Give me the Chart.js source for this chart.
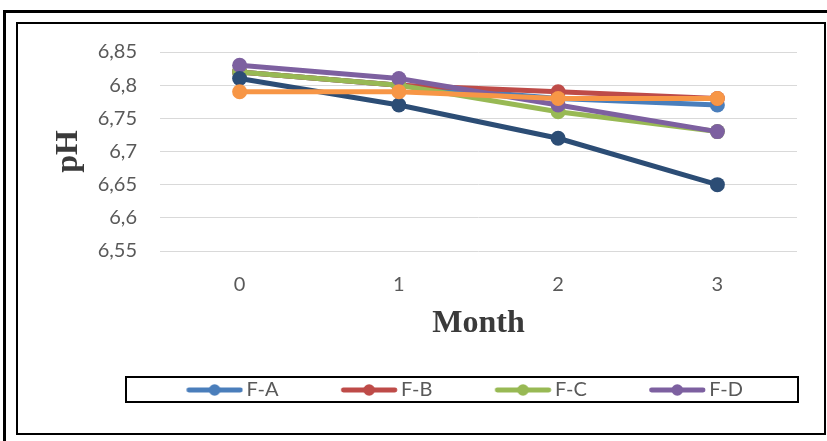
<!DOCTYPE html>
<html>
<head>
<meta charset="utf-8">
<title>pH by month</title>
<script src="https://cdn.jsdelivr.net/npm/chart.js@4.4.1/dist/chart.umd.min.js"></script>
<style>
  html, body { margin: 0; padding: 0; background: #fff; overflow: hidden; }
  #wrap { position: relative; width: 827px; height: 441px; overflow: hidden; background: #fff; }
  .frame-outer { position: absolute; left: 3px; top: 10px; width: 900px; height: 500px;
                 border: 3px solid #000; box-sizing: border-box; }
  .frame-inner { position: absolute; left: 16px; top: 22px; width: 810px; height: 413px;
                 border: 2px solid #000; box-sizing: border-box; }
  .legend-box  { position: absolute; left: 125px; top: 376px; width: 674px; height: 27px;
                 border: 2px solid #000; box-sizing: border-box; }
  canvas { position: absolute; left: 0; top: 0; }
</style>
</head>
<body>
<div id="wrap">
  <div class="frame-outer"></div>
  <div class="frame-inner"></div>
  <div class="legend-box"></div>
  <canvas id="chart" width="827" height="441"></canvas>
</div>
<script>
// Months on the x axis
const months = ['0', '1', '2', '3'];

// pH readings per formulation
const fA = [6.82, 6.80, 6.78, 6.77];
const fB = [6.82, 6.80, 6.79, 6.78];
const fC = [6.82, 6.80, 6.76, 6.73];
const fD = [6.83, 6.81, 6.77, 6.73];
// two further series that are plotted but not listed in the legend
const fE = [6.81, 6.77, 6.72, 6.65];
const fF = [6.79, 6.79, 6.78, 6.78];

// y axis ticks
const yTicks = [6.55, 6.60, 6.65, 6.70, 6.75, 6.80, 6.85];

const seriesNames  = ['F-A', 'F-B', 'F-C', 'F-D', 'F-E', 'F-F'];
const seriesValues = [fA, fB, fC, fD, fE, fF];
const seriesColors = ['#4a7ebb', '#be4b48', '#98b954', '#7d60a0', '#2c4d75', '#f79646'];
const legendCount = 4;

Chart.defaults.font.family = 'Lato, "Open Sans", sans-serif';
Chart.defaults.color = '#595959';

// legend symbol: a short line with a dot in the middle, placed in the right half
// of the image so it sits just before the label text
function legendIcon(color) {
  const c = document.createElement('canvas');
  c.width = 116; c.height = 14;
  const g = c.getContext('2d');
  g.strokeStyle = color;
  g.lineWidth = 4.8;
  g.lineCap = 'round';
  g.beginPath();
  g.moveTo(61.5, 7); g.lineTo(113, 7);
  g.stroke();
  g.fillStyle = color;
  g.beginPath();
  g.arc(87.25, 7, 5.8, 0, Math.PI * 2);
  g.fill();
  return c;
}
const icons = seriesColors.map(legendIcon);

const datasets = seriesNames.map((name, i) => ({
  label: name,
  data: seriesValues[i],
  borderColor: seriesColors[i],
  backgroundColor: seriesColors[i],
  pointBackgroundColor: seriesColors[i],
  borderWidth: 5,
  pointRadius: 7.5,
  pointHoverRadius: 7.5,
  pointBorderWidth: 0,
  tension: 0,
  fill: false,
  order: seriesNames.length - i   // later series are drawn on top
}));

const fmt = v => String(Number(v.toFixed(2))).replace('.', ',');

new Chart(document.getElementById('chart'), {
  type: 'line',
  data: { labels: months, datasets },
  options: {
    responsive: false,
    animation: false,
    devicePixelRatio: 1,
    layout: { padding: { left: 50, right: 0, top: 52, bottom: 31 } },
    plugins: {
      tooltip: { enabled: false },
      legend: {
        position: 'bottom',
        align: 'center',
        labels: {
          usePointStyle: true,
          pointStyleWidth: 102.5,
          boxHeight: 14,
          padding: 10,
          color: '#595959',
          font: { size: 20, family: 'Lato' },
          generateLabels: chart => chart.data.datasets.slice(0, legendCount).map((ds, i) => ({
            text: ds.label,
            pointStyle: icons[i],
            fillStyle: ds.borderColor,
            strokeStyle: ds.borderColor,
            lineWidth: 0,
            hidden: false,
            datasetIndex: i,
            fontColor: '#595959'
          }))
        }
      }
    },
    scales: {
      x: {
        type: 'category',
        offset: true,
        grid: { display: false },
        border: { display: false },
        ticks: { padding: 14, font: { size: 20 }, color: '#595959' },
        title: {
          display: true,
          text: 'Month',
          color: '#3a3a3a',
          font: { family: '"Liberation Serif", "Times New Roman", serif', size: 32, weight: 'bold' },
          padding: { top: 0, bottom: 27 }
        },
        afterFit: s => { s.height = 119; }
      },
      y: {
        type: 'linear',
        position: 'left',
        min: yTicks[0],
        max: yTicks[yTicks.length - 1],
        afterBuildTicks: s => { s.ticks = yTicks.map(v => ({ value: v })); },
        grid: { color: '#d9d9d9', lineWidth: 1, drawTicks: false },
        border: { display: false },
        ticks: { padding: 23, font: { size: 20 }, color: '#595959', callback: v => fmt(v) },
        title: {
          display: true,
          text: 'pH',
          color: '#3a3a3a',
          font: { family: '"Liberation Serif", "Times New Roman", serif', size: 32, weight: 'bold' },
          padding: { top: 0, bottom: 0 }
        },
        afterFit: s => { s.width = 110; }
      },
      // empty right-hand axis that keeps the plot clear of the right frame
      yRight: {
        type: 'linear',
        position: 'right',
        display: true,
        grid: { display: false },
        border: { display: false },
        ticks: { display: false },
        afterFit: s => { s.width = 30; }
      }
    }
  }
});
</script>
</body>
</html>
